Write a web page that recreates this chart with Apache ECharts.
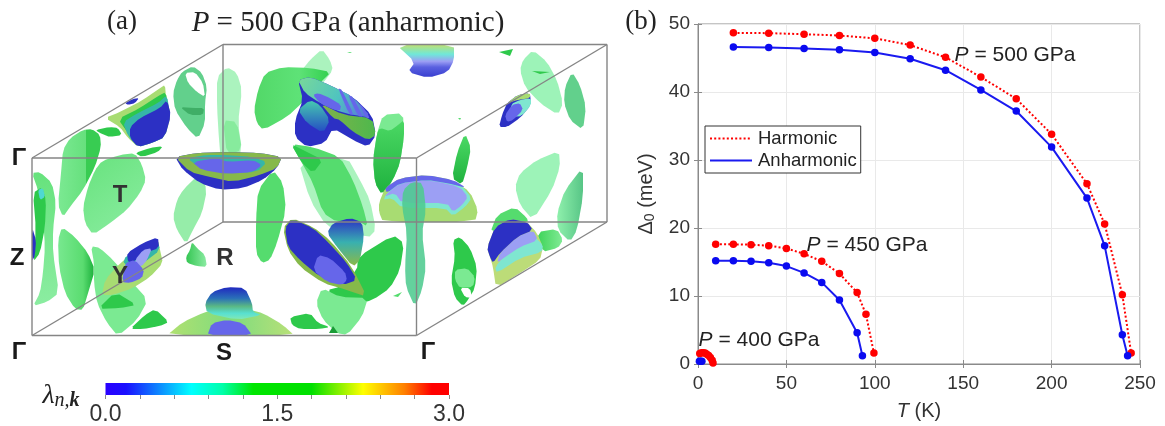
<!DOCTYPE html>
<html><head><meta charset="utf-8">
<style>html,body{margin:0;padding:0;background:#fff}#c{width:1165px;height:426px}</style>
<script src="https://cdn.jsdelivr.net/npm/echarts@6/dist/echarts.min.js"></script>
</head><body><div id="c"></div>
<script>
// ---------- panel (b) data ----------
const tempHarm500 = [20,40,60,80,100,120,140,160,180,200,220,230,240,245];
const gapHarm500  = [48.7,48.65,48.5,48.3,47.9,46.9,45.1,42.2,39.0,33.8,26.5,20.6,10.2,1.6];
const tempAnh500  = [20,40,60,80,100,120,140,160,180,200,220,230,240,243];
const gapAnh500   = [46.6,46.55,46.4,46.2,45.8,44.9,43.2,40.3,37.2,31.9,24.4,17.4,4.3,1.2];
const tempHarm450 = [10,20,30,40,50,60,70,80,90,95,99.5];
const gapHarm450  = [17.6,17.6,17.55,17.4,17.0,16.2,15.1,13.3,10.5,7.3,1.6];
const tempAnh450  = [10,20,30,40,50,60,70,80,90,93];
const gapAnh450   = [15.2,15.2,15.1,14.9,14.4,13.4,12.0,9.4,4.6,1.2];
const tempHarm400 = [1,2,3,4,5,6,7,8,8.5];
const gapHarm400  = [1.55,1.65,1.65,1.6,1.45,1.25,0.95,0.55,0.15];
const tempAnh400  = [0.8,1.5,2.2];
const gapAnh400   = [0.4,0.4,0.4];
const xTicks = [0,250,50];
const yTicks = [0,50,10];
// ---------- colour bar data ----------
const lambdaRange = [0,3];
const lambdaStep = 0.3;
const lambdaStops = [[0,'#2a00ff'],[0.06,'#1a10ff'],[0.25,'#00ffff'],[0.34,'#00ffaa'],[0.43,'#00e600'],[0.6,'#00e000'],[0.75,'#ffff00'],[0.87,'#ff8000'],[0.95,'#ff0000'],[1,'#ff0000']];
// ---------- panel (a) box corners ----------
const boxEdges = [
 [[223,44.5],[607,44.5]],[[223,44.5],[223,222]],[[223,222],[607,222]],[[607,44.5],[607,222]],
 [[32,158],[223,44.5]],[[416.5,158],[607,44.5]],[[32,335.5],[223,222]],[[416.5,335.5],[607,222]],
 [[32,158],[416.5,158]],[[32,335.5],[416.5,335.5]],[[32,158],[32,335.5]],[[416.5,158],[416.5,335.5]]
];
// ---------- panel (a) Fermi-surface pieces: [tone, outline], painted in order ----------
const surfaces = [
 ['bl',[[125,103],[133,99],[139,98],[135,103],[128,105]]],
 ['gd',[[95,130],[110,127],[118,128],[122,135],[110,137],[102,134]]],
 ['lime',[[105,118],[120,112],[143,100],[160,88],[165,85],[166,97],[171,115],[165,137],[152,143],[138,147],[128,138],[120,127]]],
 ['gd',[[118,119],[140,108],[158,96],[166,92],[168,110],[160,125],[140,135],[128,133]]],
 ['teal',[[123,122],[138,113],[158,103],[167,95],[170,115],[165,137],[152,143],[138,147],[128,136]]],
 ['bl',[[130,127],[140,118],[160,108],[167,100],[171,115],[165,137],[152,143],[138,147],[130,138]]],
 ['sea',[[182,72],[193,66],[202,73],[207,87],[205,103],[205,123],[198,139],[187,128],[175,110],[173,93],[177,80]]],
 ['w',[[185,73],[195,72],[203,83],[205,97],[197,92],[188,83]]],
 ['seaD',[[180,107],[193,108],[204,108],[203,115],[190,115]]],
 ['mintA',[[217,77],[227,67],[237,73],[242,90],[238,123],[242,150],[233,173],[227,193],[222,173],[219,140],[217,107]]],
 ['glA',[[223,120],[237,122],[242,150],[227,155]]],
 ['gV',[[83,130],[92,129],[100,135],[101,147],[95,167],[83,190],[70,207],[63,217],[58,205],[61,173],[63,150],[70,138]]],
 ['gH',[[102,161],[120,155],[135,153],[142,165],[146,180],[140,193],[127,210],[110,223],[93,235],[85,223],[83,207],[88,187],[95,170]]],
 ['gd',[[135,153],[150,148],[163,146],[158,152],[142,157]]],
 ['gH',[[32,173],[40,172],[52,183],[56,203],[53,230],[53,253],[59,293],[47,302],[33,306],[40,293],[43,273],[45,247],[43,217],[38,190]]],
 ['gd',[[33,193],[42,187],[46,200],[45,227],[40,253],[33,262],[36,230]]],
 ['cy',[[38,190],[43,188],[45,197],[40,200]]],
 ['bl',[[32,227],[36,240],[35,255],[32,262]]],
 ['gV2',[[62,227],[75,237],[88,253],[95,270],[88,293],[83,310],[75,309],[65,293],[59,267],[58,240]]],
 ['gl',[[91,246],[100,248],[113,260],[130,280],[148,300],[137,320],[118,336],[107,323],[97,303],[94,283],[94,263]]],
 ['gd',[[98,309],[115,292],[137,305],[120,308]]],
 ['lime',[[102,295],[105,280],[120,263],[138,250],[158,240],[160,250],[163,263],[150,277],[133,288],[113,295]]],
 ['teal',[[122,260],[138,248],[157,238],[160,250],[145,262],[130,270]]],
 ['bl',[[127,253],[143,243],[158,237],[159,248],[145,253],[133,262],[128,262]]],
 ['lav',[[135,260],[143,250],[152,248],[147,260],[142,266],[137,266]]],
 ['blm',[[125,263],[135,260],[144,270],[142,278],[130,283],[122,282]]],
 ['gV3',[[192,242],[197,248],[205,255],[207,267],[197,266],[187,263],[186,257],[190,250]]],
 ['gd',[[130,329],[145,315],[155,309],[169,322],[160,326],[143,329]]],
 ['glA',[[183,190],[200,173],[207,190],[202,213],[193,230],[186,244],[177,230],[173,217],[177,200]]],
 ['g',[[273,170],[283,183],[286,210],[277,243],[270,260],[262,263],[256,253],[256,220],[258,190]]],
 ['bl',[[175,157],[197,153],[227,152],[260,153],[282,157],[277,168],[263,180],[243,188],[220,190],[200,183],[183,170]]],
 ['olive',[[175,157],[197,153],[227,152],[260,153],[282,157],[277,168],[260,175],[233,182],[210,177],[190,172]]],
 ['teal',[[187,158],[207,155],[227,155],[253,157],[267,162],[257,172],[227,173],[200,168]]],
 ['blm',[[192,162],[217,158],[228,162],[253,160],[262,165],[253,172],[227,174],[202,170]]],
 ['mintA',[[322,49],[330,60],[333,70],[323,83],[310,93],[302,70],[310,60]]],
 ['gH2',[[265,73],[283,67],[310,68],[331,72],[320,83],[303,102],[287,117],[263,130],[257,123],[254,110],[258,90]]],
 ['bl',[[298,80],[310,77],[330,85],[353,97],[372,115],[376,135],[368,147],[353,140],[333,128],[325,143],[307,147],[295,137],[295,120],[303,100]]],
 ['tealV',[[298,110],[310,100],[320,105],[330,120],[323,133],[307,123]]],
 ['oliveH',[[320,103],[343,115],[372,118],[376,135],[368,140],[353,132],[340,120],[333,118]]],
 ['slab',[[298,80],[310,77],[330,85],[353,97],[372,118],[343,113],[320,103],[305,93]]],
 ['blm',[[338,88],[342,90],[354,115],[349,114]]],
 ['blm',[[348,95],[353,97],[363,117],[358,116]]],
 ['blm',[[359,103],[363,107],[370,118],[366,118]]],
 ['blm',[[313,95],[318,93],[330,98],[341,105],[340,111],[332,109],[320,103]]],
 ['gl',[[383,115],[403,113],[404,137],[400,163],[393,180],[382,195],[375,183],[373,160],[377,133]]],
 ['gdV',[[380,128],[390,131],[398,125],[404,120],[404,137],[400,163],[393,180],[382,195],[375,183],[373,160],[377,133]]],
 ['mintA',[[298,160],[347,157],[360,180],[370,200],[376,230],[368,238],[343,227],[327,227],[310,200]]],
 ['g',[[291,144],[313,147],[340,157],[353,180],[363,207],[368,227],[357,220],[337,222],[323,213],[313,183],[302,163]]],
 ['gd',[[291,144],[303,150],[323,160],[313,173],[302,163]]],
 ['gd',[[358,257],[393,235],[404,243],[400,270],[390,288],[373,300],[353,305],[337,307],[327,290],[340,287],[357,270]]],
 ['gl',[[322,288],[340,297],[368,298],[362,317],[347,335],[337,333],[323,320],[316,303]]],
 ['gd',[[290,317],[310,313],[318,323],[330,327],[320,329],[300,329],[292,325]]],
 ['gk',[[333,326],[338,333],[329,333]]],
 ['g',[[393,296],[402,292],[398,297]]],
 ['tower',[[333,223],[350,218],[362,222],[364,237],[360,260],[353,267],[337,247],[327,233]]],
 ['olive',[[283,228],[292,218],[313,227],[330,240],[352,267],[367,297],[347,290],[323,283],[300,267],[288,250]]],
 ['bl',[[285,228],[292,219],[313,228],[328,242],[347,263],[357,280],[343,285],[320,277],[300,260],[288,247]]],
 ['blm',[[313,270],[318,255],[330,258],[345,272],[347,280],[342,285],[327,282]]],
 ['limeH',[[166,336],[183,322],[205,312],[217,310],[250,310],[263,313],[283,325],[295,336]]],
 ['dome',[[205,303],[212,292],[227,287],[245,288],[252,303],[253,312],[262,315],[237,320],[207,313]]],
 ['blm',[[207,336],[212,323],[227,320],[243,323],[253,336]]],
 ['domeTop',[[396,44.5],[454,44.5],[454,60],[448,72],[428,78],[408,72],[415,62]]],
 ['g',[[347,52],[352,52],[350,53]]],
 ['gd',[[499,52],[513,49],[510,56]]],
 ['g',[[458,118],[461,118],[460,120]]],
 ['mint',[[533,50],[547,62],[557,80],[563,103],[558,115],[540,103],[525,87],[520,70],[523,60]]],
 ['gd',[[532,71],[550,72],[540,74]]],
 ['sea',[[572,72],[580,85],[586,107],[583,130],[570,120],[564,103],[565,87]]],
 ['bl',[[507,103],[518,95],[530,93],[531,105],[520,118],[507,127],[499,127],[502,115]]],
 ['cyL',[[511,104],[520,100],[531,98],[531,105],[522,116],[511,117]]],
 ['lime',[[507,103],[518,95],[530,93],[530,98],[518,100]]],
 ['blm',[[505,115],[512,105],[520,103],[523,110],[513,120],[507,122]]],
 ['gdV',[[465,133],[471,148],[467,168],[462,185],[452,178],[457,153]]],
 ['mint',[[537,160],[559,151],[560,167],[552,190],[533,220],[520,205],[515,187],[520,173]]],
 ['seaL',[[583,167],[583,197],[577,230],[570,242],[558,230],[557,213],[565,190]]],
 ['lime',[[379,203],[385,188],[400,178],[427,175],[453,180],[470,192],[478,210],[475,222],[383,222],[379,212]]],
 ['cyL',[[382,200],[398,180],[430,178],[460,184],[472,198],[465,207],[453,216],[445,208],[402,208],[392,198]]],
 ['lav',[[383,197],[400,183],[430,180],[460,187],[468,197],[462,205],[453,212],[447,203],[402,203],[395,193]]],
 ['blm',[[385,188],[400,178],[427,175],[453,180],[467,188],[447,183],[427,180],[400,183],[387,193]]],
 ['seaA',[[412,182],[423,183],[426,210],[422,233],[426,267],[422,290],[415,307],[406,287],[405,267],[407,233],[402,207],[403,190]]],
 ['g',[[490,233],[497,215],[515,207],[527,218],[528,222],[507,223]]],
 ['gH3',[[537,232],[557,229],[563,240],[558,248],[542,252]]],
 ['limeD',[[487,248],[495,227],[510,219],[527,222],[537,233],[543,247],[540,260],[520,273],[496,288],[493,267],[490,257]]],
 ['cyL',[[495,267],[507,253],[533,235],[543,245],[542,252],[520,258],[497,273]]],
 ['lav',[[500,253],[517,237],[533,230],[538,240],[520,247],[505,257],[497,263]]],
 ['bl',[[487,248],[495,227],[510,219],[527,222],[533,230],[517,237],[500,253],[493,263],[490,257]]],
 ['gd',[[453,240],[460,237],[470,248],[477,267],[475,288],[468,300],[463,306],[455,298],[451,280],[455,257]]],
 ['gl',[[455,270],[467,268],[475,277],[473,287],[460,288],[455,280]]],
 ['w',[[460,288],[470,288],[472,298],[465,297]]]
];
// ---------- text ----------
const titleA = '{i|P} = 500 GPa (anharmonic)';
const pressureLabels = ['{i|P} = 500 GPa','{i|P} = 450 GPa','{i|P} = 400 GPa'];
const kPointLabels = ['Γ','Z','Γ','S','Γ'];
const innerPointLabels = ['T','Y','R'];

// ---------- styling ----------
const lg=(x2,y2,stops)=>new echarts.graphic.LinearGradient(0,0,x2,y2,stops.map(c=>({offset:c[0],color:c[1]})));
const tones={
 w:{fill:'#ffffff'},g:{fill:'#55dc6e'},gd:{fill:'#2ec94b'},gk:{fill:'#1a9c36'},gl:{fill:'#7bea92'},
 glA:{fill:'#7fe996',opacity:.82},mint:{fill:'#9df3b8'},mintA:{fill:'#93efac',opacity:.78},
 sea:{fill:'#62d08c'},seaL:{fill:lg(1,0,[[0,'#8ff0ac'],[1,'#57c586']])},seaD:{fill:'#3fae66'},seaA:{fill:'#4fcb8f',opacity:.88},
 bl:{fill:'#2c30c4'},blm:{fill:'#6666ea'},lav:{fill:'#9c9ff4'},lime:{fill:'#a8dc72'},limeD:{fill:'#bcdc78'},olive:{fill:'#86b94a'},
 cy:{fill:'#4fd8d2'},cyL:{fill:'#7fe6d0'},teal:{fill:'#35b6a8'},
 gV:{fill:lg(1,0,[[0,'#7be992'],[.65,'#66e07d'],[.66,'#38cc52'],[1,'#38cc52']])},
 gV2:{fill:lg(1,0,[[0,'#78e88f'],[.7,'#5adc70'],[1,'#1fb23e']])},
 gV3:{fill:lg(1,0,[[0,'#35c653'],[1,'#8beba2']])},
 gH:{fill:lg(1,1,[[0,'#66e27c'],[1,'#8ceda2']])},
 gH2:{fill:lg(1,0,[[0,'#52d868'],[.6,'#5ee277'],[1,'#34d050']])},
 gH3:{fill:lg(1,0,[[0,'#3fd45a'],[1,'#80ea94']])},
 gdV:{fill:lg(0,1,[[0,'#4bd864'],[1,'#1fb23e']])},
 tealV:{fill:lg(0,1,[[0,'#46c8b0'],[1,'#2550c4']])},
 oliveH:{fill:lg(1,0,[[0,'#7fb24a'],[1,'#4eb84c']])},
 slab:{fill:lg(1,1,[[0,'#78d89a'],[.55,'#4fc4c0'],[1,'#5a70dc']])},
 tower:{fill:lg(0,1,[[0,'#2c30c4'],[.5,'#38b0b0'],[1,'#8ab948']])},
 limeH:{fill:lg(1,0,[[0,'#b0e070'],[.5,'#7fdc7e'],[1,'#b8e078']])},
 dome:{fill:lg(0,1,[[0,'#2028c0'],[.35,'#2a70b8'],[.6,'#5ab884'],[.82,'#58e0d0'],[1,'#7fe8b8']])},
 domeTop:{fill:lg(0,1,[[0,'#c0e070'],[.3,'#70e8d8'],[.52,'#9c9ff4'],[.7,'#5a60e0'],[1,'#3a40d0']])}
};
// rounds a drawn outline a little by cutting its corners (drawing only)
const roundOutline=(points,passes)=>{let p=points;
  for(let k=0;k<passes;k++){const out=[];
    for(let i=0;i<p.length;i++){const a=p[i],b=p[(i+1)%p.length];
      out.push([a[0]*.8+b[0]*.2,a[1]*.8+b[1]*.2],[a[0]*.2+b[0]*.8,a[1]*.2+b[1]*.8]);}
    p=out;}
  return p;};
const axisGrey='#8a8a8a', labelInk='#333333';
const pts=(xs,ys)=>xs.map((x,i)=>[x,ys[i]]);
const lineSeries=(name,xs,ys,dotted)=>({name,type:'line',xAxisIndex:0,yAxisIndex:0,data:pts(xs,ys),symbol:'circle',symbolSize:7.5,showSymbol:true,
  animation:false,clip:false,z:5,itemStyle:{color:dotted?'#ff0000':'#0a0af0'},
  lineStyle:{color:dotted?'#ff0000':'#1a1af0',width:2,type:dotted?[2,2.2]:'solid'}});
const pressureTextPos=[[1015,55],[867,245],[759,340]];
const kPos=[[19,158],[17,258],[19,352],[224,353],[428,352]];
const innerPos=[[120,195],[120,276],[225,258]];
const serif='"Liberation Serif","Times New Roman",serif', sans='"Liberation Sans",Arial,sans-serif';
const txt=(x,y,o)=>({type:'text',x,y,silent:true,z:20,style:Object.assign({align:'center',verticalAlign:'middle',fill:'#222'},o)});

const option={
 animation:false,backgroundColor:'#fff',
 legend:{data:['Harmonic','Anharmonic'],left:705,top:126,orient:'vertical',itemWidth:42,itemHeight:10,itemGap:3,padding:[3,4,3,4],
   backgroundColor:'#fff',borderColor:'#333',borderWidth:1,selectedMode:false,itemStyle:{opacity:0},
   textStyle:{fontFamily:sans,fontSize:18.5,color:'#222',padding:[0,0,0,1]}},
 grid:[
  {left:698,top:24,width:442,height:340,show:true,borderColor:axisGrey,borderWidth:1},
  {left:0,top:0,width:1165,height:426},
  {left:105.5,top:383,width:343.5,height:12}
 ],
 xAxis:[
  {gridIndex:0,type:'value',min:xTicks[0],max:xTicks[1],interval:xTicks[2],
   name:'{i|T} (K)',nameLocation:'middle',nameGap:37,nameTextStyle:{fontFamily:sans,fontSize:20,color:labelInk,rich:{i:{fontStyle:'italic',fontSize:20,fontFamily:sans,color:labelInk}}},
   axisLine:{lineStyle:{color:axisGrey}},axisTick:{show:true,inside:true,length:4,lineStyle:{color:axisGrey}},
   axisLabel:{fontFamily:sans,fontSize:19,color:labelInk,margin:10},splitLine:{show:true,lineStyle:{color:'#e9e9e9',width:1}}},
  {gridIndex:0,type:'value',position:'top',min:xTicks[0],max:xTicks[1],interval:xTicks[2],
   axisLine:{lineStyle:{color:axisGrey}},axisTick:{show:true,inside:true,length:4,lineStyle:{color:axisGrey}},axisLabel:{show:false},splitLine:{show:false}},
  {gridIndex:1,type:'value',min:0,max:1165,show:false},
  {gridIndex:2,type:'value',min:lambdaRange[0],max:lambdaRange[1],interval:lambdaStep,
   axisLine:{show:false},axisTick:{show:true,length:4,lineStyle:{color:axisGrey}},splitLine:{show:false},
   axisLabel:{fontFamily:sans,fontSize:23,color:labelInk,margin:8,showMinLabel:true,showMaxLabel:true,hideOverlap:false,
     formatter:v=>(Math.abs(v)<1e-6||Math.abs(v-1.5)<1e-6||Math.abs(v-3)<1e-6)?v.toFixed(1):''}}
 ],
 yAxis:[
  {gridIndex:0,type:'value',min:yTicks[0],max:yTicks[1],interval:yTicks[2],
   name:'{d|Δ}{s|0}{d| (meV)}',nameLocation:'middle',nameGap:41,nameTextStyle:{rich:{d:{fontFamily:sans,fontSize:20,color:labelInk},s:{fontFamily:sans,fontSize:14,color:labelInk,verticalAlign:'bottom',padding:[8,0,0,0]}}},
   axisLine:{lineStyle:{color:axisGrey}},axisTick:{show:true,inside:true,length:4,lineStyle:{color:axisGrey}},
   axisLabel:{fontFamily:sans,fontSize:19,color:labelInk,margin:8},splitLine:{show:true,lineStyle:{color:'#e9e9e9',width:1}}},
  {gridIndex:0,type:'value',position:'right',min:yTicks[0],max:yTicks[1],interval:yTicks[2],
   axisLine:{lineStyle:{color:axisGrey}},axisTick:{show:true,inside:true,length:4,lineStyle:{color:axisGrey}},axisLabel:{show:false},splitLine:{show:false}},
  {gridIndex:1,type:'value',min:0,max:426,inverse:true,show:false},
  {gridIndex:2,type:'value',min:0,max:1,show:false}
 ],
 series:[
  {type:'custom',xAxisIndex:2,yAxisIndex:2,coordinateSystem:'cartesian2d',clip:false,z:1,silent:true,
   data:surfaces.map(s=>s[1][0]),
   renderItem:(p,api)=>{const s=surfaces[p.dataIndex],t=tones[s[0]];
     return {type:'polygon',shape:{points:roundOutline(s[1].map(q=>api.coord(q)),s[1].length>3?1:0)},
       style:{fill:t.fill,opacity:t.opacity==null?1:t.opacity}};}},
  {type:'custom',xAxisIndex:2,yAxisIndex:2,coordinateSystem:'cartesian2d',clip:false,z:2,silent:true,
   data:boxEdges.map(e=>e[0]),
   renderItem:(p,api)=>{const e=boxEdges[p.dataIndex],a=api.coord(e[0]),b=api.coord(e[1]);
     return {type:'line',shape:{x1:a[0],y1:a[1],x2:b[0],y2:b[1]},style:{stroke:'#858585',lineWidth:1.4}};}},
  {type:'custom',xAxisIndex:3,yAxisIndex:3,coordinateSystem:'cartesian2d',clip:false,silent:true,
   data:[[lambdaRange[0],0]],
   renderItem:(p,api)=>{const a=api.coord([lambdaRange[0],1]),b=api.coord([lambdaRange[1],0]);
     return {type:'rect',shape:{x:a[0],y:a[1],width:b[0]-a[0],height:b[1]-a[1]},
       style:{fill:new echarts.graphic.LinearGradient(0,0,1,0,lambdaStops.map(c=>({offset:c[0],color:c[1]})))}};}},
  lineSeries('Harmonic',tempHarm500,gapHarm500,true),
  lineSeries('Anharmonic',tempAnh500,gapAnh500,false),
  lineSeries('Harmonic',tempHarm450,gapHarm450,true),
  lineSeries('Anharmonic',tempAnh450,gapAnh450,false),
  lineSeries('Harmonic',tempHarm400,gapHarm400,true),
  lineSeries('Anharmonic',tempAnh400,gapAnh400,false)
 ],
 graphic:[
  txt(122,22,{text:'(a)',font:'27px '+serif}),
  txt(348,23,{text:titleA,font:'29px '+serif,rich:{i:{fontStyle:'italic',fontSize:29,fontFamily:serif,fill:'#222'}}}),
  txt(641,22,{text:'(b)',font:'27px '+serif}),
  txt(61,396,{text:'{l|λ}{s|n,}{b|k}',rich:{l:{fontFamily:serif,fontStyle:'italic',fontSize:28,fill:'#222'},
     s:{fontFamily:serif,fontStyle:'italic',fontSize:20,fill:'#222',verticalAlign:'bottom',padding:[10,0,0,0]},
     b:{fontFamily:serif,fontStyle:'italic',fontWeight:'bold',fontSize:20,fill:'#222',verticalAlign:'bottom',padding:[10,0,0,0]}}})
 ].concat(pressureLabels.map((t,i)=>txt(pressureTextPos[i][0],pressureTextPos[i][1],{text:t,font:'21px '+sans,
     rich:{i:{fontStyle:'italic',fontSize:21,fontFamily:sans,fill:'#222'}}})))
  .concat(kPointLabels.map((t,i)=>txt(kPos[i][0],kPos[i][1],{text:t,font:'bold 24px '+sans,fill:'#1a1a1a'})))
  .concat(innerPointLabels.map((t,i)=>txt(innerPos[i][0],innerPos[i][1],{text:t,font:'bold 24px '+sans,fill:'#333'})))
};
echarts.init(document.getElementById('c'),null,{renderer:'canvas'}).setOption(option);
</script></body></html>
